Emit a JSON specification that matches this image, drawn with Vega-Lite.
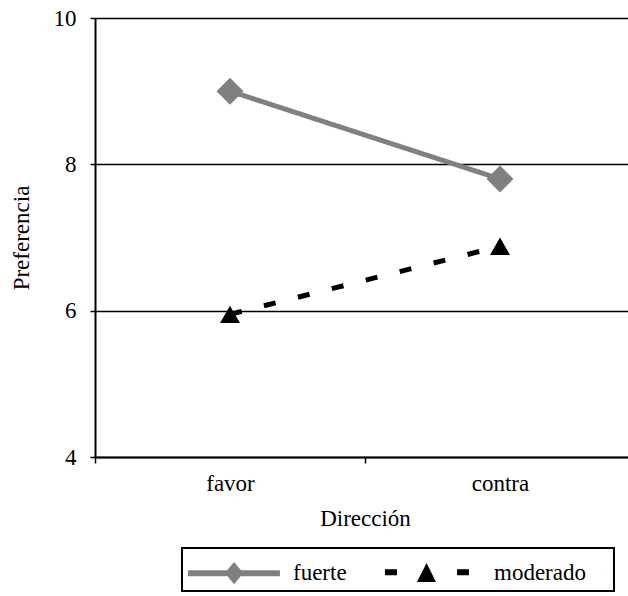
{
  "$schema": "https://vega.github.io/schema/vega-lite/v6.json",
  "width": 540,
  "height": 439,
  "autosize": {"type": "none"},
  "padding": {"left": 95, "top": 18, "right": 0, "bottom": 139},
  "background": "white",
  "config": {
    "view": {"stroke": null},
    "font": "Liberation Serif",
    "axis": {
      "labelFont": "Liberation Serif",
      "titleFont": "Liberation Serif",
      "labelFontSize": 23,
      "titleFontSize": 23,
      "titleFontWeight": "normal",
      "labelColor": "black",
      "titleColor": "black",
      "domainColor": "black",
      "domainWidth": 2,
      "tickColor": "black",
      "tickWidth": 1.5
    },
    "legend": {
      "labelFont": "Liberation Serif",
      "labelFontSize": 23,
      "labelColor": "black"
    }
  },
  "data": {
    "values": [
      {"direccion": "favor", "grupo": "fuerte", "preferencia": 9.0},
      {"direccion": "contra", "grupo": "fuerte", "preferencia": 7.8},
      {"direccion": "favor", "grupo": "moderado", "preferencia": 5.95},
      {"direccion": "contra", "grupo": "moderado", "preferencia": 6.88}
    ]
  },
  "encoding": {
    "x": {
      "field": "direccion",
      "type": "nominal",
      "sort": ["favor", "contra"],
      "scale": {"type": "band", "paddingInner": 0, "paddingOuter": 0},
      "axis": {
        "title": "Dirección",
        "labelAngle": 0,
        "tickBand": "extent",
        "tickSize": 6,
        "labelPadding": 9,
        "titlePadding": 12,
        "grid": false
      }
    },
    "y": {
      "field": "preferencia",
      "type": "quantitative",
      "scale": {"domain": [4, 10]},
      "axis": {
        "title": "Preferencia",
        "values": [4, 6, 8, 10],
        "grid": true,
        "gridColor": "black",
        "gridWidth": 1.5,
        "gridOpacity": 1,
        "tickSize": 5,
        "labelPadding": 14,
        "titlePadding": 20
      }
    }
  },
  "layer": [
    {
      "mark": {"type": "line", "strokeWidth": 5},
      "encoding": {
        "color": {
          "field": "grupo",
          "type": "nominal",
          "scale": {"domain": ["fuerte", "moderado"], "range": ["#808080", "#000000"]}
        },
        "strokeDash": {
          "field": "grupo",
          "type": "nominal",
          "scale": {"range": [[1, 0], [12, 23]]},
          "legend": null
        }
      }
    },
    {
      "mark": {"type": "point", "filled": true, "opacity": 1},
      "encoding": {
        "color": {
          "field": "grupo",
          "type": "nominal",
          "scale": {"domain": ["fuerte", "moderado"], "range": ["#808080", "#000000"]},
          "legend": {
            "title": null,
            "orient": "none",
            "legendX": 87,
            "legendY": 530,
            "direction": "horizontal",
            "strokeColor": "black",
            "padding": 6,
            "symbolSize": 1369,
            "symbolStrokeWidth": 0,
            "symbolOpacity": 1,
            "labelOffset": 68,
            "columnPadding": 37,
            "encode": {
              "legend": {"update": {"strokeWidth": {"value": 2}}},
              "symbols": {
                "update": {
                  "shape": {"signal": "datum.value === 'fuerte' ? 'M-1,-0.135H3.97V0.19H-1Z M0.99,0.02L1.49,-0.58L1.99,0.02L1.49,0.62Z' : 'M-1.22,-0.19H-0.57V0.14H-1.22Z M1.03,-0.53L1.54,0.5H0.51Z M2.68,-0.19H3.32V0.14H2.68Z M10.8,0L10.82,0L10.82,0.02Z'"}
                }
              }
            }
          }
        },
        "shape": {
          "field": "grupo",
          "type": "nominal",
          "scale": {"range": ["diamond", "triangle-up"]},
          "legend": null
        },
        "size": {
          "field": "grupo",
          "type": "nominal",
          "scale": {"range": [729, 400]},
          "legend": null
        }
      }
    }
  ]
}
